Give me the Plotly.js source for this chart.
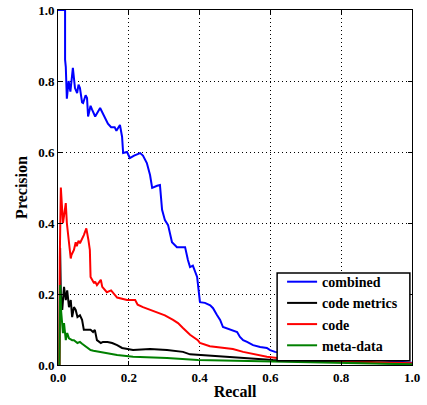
<!DOCTYPE html>
<html>
<head>
<meta charset="utf-8">
<script src="https://cdn.plot.ly/plotly-3.0.1.min.js"></script>
<style>html,body{margin:0;padding:0;background:#fff;}#chart{width:427px;height:405px;}</style>
</head>
<body>
<div id="chart"></div>
<script>
const seriesNames = ["combined", "code metrics", "code", "meta-data"];
const seriesColors = ["#0000ff", "#000000", "#ff0000", "#008000"];

const combinedRecall = [0,0.02,0.02,0.022,0.025,0.03,0.035,0.042,0.048,0.054,0.058,0.062,0.068,0.071,0.078,0.082,0.085,0.092,0.096,0.105,0.119,0.13,0.141,0.15,0.16,0.165,0.175,0.181,0.184,0.195,0.203,0.215,0.232,0.24,0.251,0.26,0.266,0.28,0.288,0.294,0.302,0.311,0.322,0.336,0.359,0.367,0.373,0.381,0.393,0.401,0.415,0.43,0.438,0.449,0.458,0.466,0.486,0.506,0.514,0.523,0.534,0.551,0.571,0.59,0.599,0.613,0.65,0.7,0.75,0.8,0.85,0.9,0.95,1.0];
const combinedPrecision = [1.0,1.0,0.86,0.84,0.75,0.80,0.77,0.837,0.78,0.766,0.79,0.78,0.74,0.738,0.76,0.752,0.70,0.73,0.72,0.70,0.724,0.70,0.68,0.67,0.67,0.66,0.676,0.643,0.597,0.60,0.583,0.59,0.597,0.59,0.569,0.535,0.499,0.505,0.507,0.437,0.408,0.394,0.346,0.332,0.332,0.296,0.276,0.28,0.248,0.177,0.175,0.168,0.16,0.141,0.127,0.107,0.10,0.093,0.079,0.07,0.065,0.056,0.051,0.048,0.042,0.037,0.033,0.03,0.027,0.022,0.018,0.014,0.01,0.006];

const metricsRecall = [0.004,0.006,0.008,0.012,0.017,0.022,0.026,0.031,0.036,0.04,0.045,0.05,0.055,0.062,0.068,0.073,0.092,0.099,0.104,0.11,0.121,0.127,0.14,0.153,0.167,0.181,0.212,0.26,0.308,0.353,0.373,0.401,0.486,0.562,0.607,0.7,0.8,0.9,1.0];
const metricsPrecision = [0.0,0.33,0.2,0.155,0.22,0.183,0.21,0.163,0.183,0.135,0.163,0.155,0.135,0.14,0.127,0.099,0.099,0.093,0.099,0.07,0.062,0.065,0.065,0.062,0.056,0.048,0.042,0.045,0.042,0.037,0.03,0.028,0.024,0.017,0.014,0.011,0.009,0.005,0.003];

const codeRecall = [0.004,0.005,0.008,0.012,0.014,0.017,0.02,0.022,0.025,0.031,0.036,0.038,0.045,0.05,0.053,0.058,0.062,0.073,0.08,0.086,0.09,0.092,0.102,0.105,0.11,0.121,0.125,0.138,0.15,0.167,0.195,0.218,0.225,0.24,0.26,0.288,0.302,0.325,0.339,0.353,0.373,0.395,0.401,0.429,0.466,0.494,0.523,0.562,0.59,0.619,0.7,0.8,0.9,1.0];
const codePrecision = [0.0,0.30,0.50,0.437,0.40,0.42,0.456,0.456,0.40,0.343,0.30,0.31,0.324,0.346,0.335,0.35,0.343,0.366,0.385,0.352,0.324,0.248,0.23,0.235,0.225,0.24,0.22,0.205,0.21,0.19,0.183,0.183,0.17,0.163,0.155,0.146,0.14,0.127,0.118,0.104,0.085,0.07,0.062,0.053,0.048,0.045,0.037,0.028,0.023,0.02,0.016,0.012,0.008,0.005];

const metaRecall = [0.004,0.006,0.009,0.012,0.014,0.017,0.022,0.026,0.031,0.04,0.045,0.055,0.062,0.068,0.08,0.092,0.1,0.13,0.167,0.212,0.308,0.395,0.5,0.6,0.7,0.8,0.9,1.0];
const metaPrecision = [0.0,0.225,0.15,0.107,0.09,0.118,0.07,0.09,0.075,0.07,0.07,0.062,0.065,0.06,0.051,0.042,0.04,0.034,0.028,0.023,0.02,0.014,0.012,0.01,0.008,0.006,0.004,0.002];

const tickVals = [0, 0.2, 0.4, 0.6, 0.8, 1.0];
const tickText = ["0.0", "0.2", "0.4", "0.6", "0.8", "1.0"];

const xs = [combinedRecall, metricsRecall, codeRecall, metaRecall];
const ys = [combinedPrecision, metricsPrecision, codePrecision, metaPrecision];
const traces = [];
for (let i = 0; i < 4; i++) {
  traces.push({x: xs[i], y: ys[i], name: seriesNames[i], type: 'scatter', mode: 'lines',
    line: {color: seriesColors[i], width: 2}});
}
const FONT = "Liberation Serif";
const axisCommon = {
  range: [0, 1], tickvals: tickVals, ticktext: tickText,
  showline: true, mirror: 'ticks', linecolor: '#000', linewidth: 1,
  ticks: 'inside', ticklen: 4, tickcolor: '#000',
  showgrid: true, gridcolor: '#000', griddash: '1px,3px', gridwidth: 1,
  zeroline: false,
  tickfont: {family: FONT, size: 13, color: '#000', weight: 'bold'}
};
const layout = {
  width: 427, height: 405,
  margin: {l: 58, r: 15, t: 10, b: 40},
  paper_bgcolor: '#fff', plot_bgcolor: '#fff',
  showlegend: true,
  xaxis: Object.assign({}, axisCommon, {title: {text: 'Recall', standoff: 2, font: {family: FONT, size: 16, color: '#000', weight: 'bold'}}}),
  yaxis: Object.assign({}, axisCommon, {title: {text: 'Precision', standoff: 6, font: {family: FONT, size: 16, color: '#000', weight: 'bold'}}}),
  shapes: [{type: 'rect', xref: 'paper', yref: 'paper', x0: 0.619, x1: 0.994, y0: 0.012, y1: 0.259,
    fillcolor: '#fff', line: {color: '#000', width: 1.5}, layer: 'above'}],
  legend: {x: 0.633, xanchor: 'left', y: 0.011, yanchor: 'bottom',
    bgcolor: 'rgba(0,0,0,0)', borderwidth: 0,
    font: {family: FONT, size: 14, color: '#000', weight: 'bold'},
    tracegroupgap: 0, itemwidth: 30}
};
Plotly.newPlot('chart', traces, layout, {displayModeBar: false, staticPlot: true});
</script>
</body>
</html>
